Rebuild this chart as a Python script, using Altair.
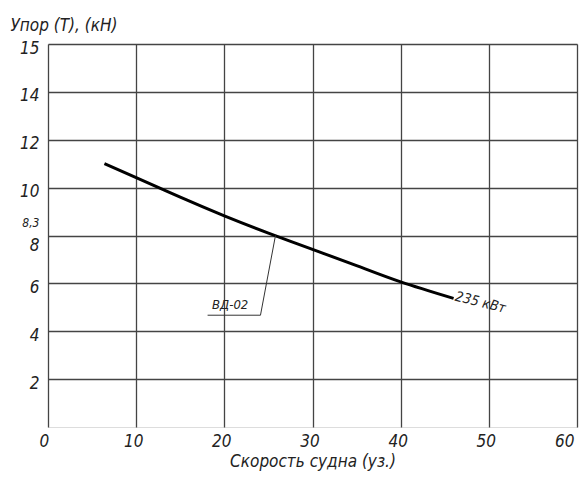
import altair as alt
import pandas as pd

# Curve data
speed = [6.4, 10, 15, 20, 25, 30, 35, 40, 46]
thrust = [11.0, 10.42, 9.6, 8.82, 8.1, 7.42, 6.74, 6.06, 5.37]

# Leader line for the "ВД-02" label
leader_x = [25.8, 24.1, 18.1]
leader_y = [8.0, 4.67, 4.67]

x_ticks = [0, 10, 20, 30, 40, 50, 60]
y_ticks = [2, 4, 6, 8, 8.3, 10, 12, 14, 16]

FONT = "Liberation Sans Narrow, DejaVu Sans Condensed, sans-serif"

curve_df = pd.DataFrame({"x": speed, "y": thrust})
leader_df = pd.DataFrame({"x": leader_x, "y": leader_y, "o": [0, 1, 2]})

xs = alt.Scale(domain=[0, 60], nice=False)
ys = alt.Scale(domain=[0, 16], nice=False)

x_axis = alt.Axis(
    values=x_ticks, title="Скорость судна (уз.)", grid=True, ticks=False, domain=False,
    labelOverlap=False,
    labelFont=FONT, labelFontStyle="italic", labelFontSize=17, labelColor="#222",
    labelPadding=6,
    labelOffset={"condition": {"test": "datum.value == 0", "value": -9}, "value": -3},
    titleFont=FONT, titleFontStyle="italic", titleFontSize=17, titleFontWeight="normal",
    titleColor="#222", titlePadding=4,
    gridColor="#444", gridWidth=1.3, gridOpacity=1,
)
y_axis = alt.Axis(
    values=y_ticks, title="Упор (Т), (кН)", grid=True, ticks=False, domain=False,
    labelOverlap=False,
    labelExpr="datum.value == 16 ? '15' : (datum.value == 8.3 ? '8,3' : datum.label)",
    labelFont=FONT, labelFontStyle="italic",
    labelFontSize={"condition": {"test": "datum.value == 8.3", "value": 12}, "value": 17},
    labelColor="#222", labelPadding=9, labelBaseline="middle",
    labelOffset={"condition": [{"test": "datum.value == 8", "value": 10},
                               {"test": "datum.value == 8.3", "value": -6}],
                 "value": 4},
    gridOpacity={"condition": {"test": "datum.value == 8.3", "value": 0}, "value": 1},
    gridColor="#444", gridWidth=1.3,
    titleFont=FONT, titleFontStyle="italic", titleFontSize=17, titleFontWeight="normal",
    titleColor="#222", titleAngle=0, titleAlign="left", titleBaseline="middle",
    titleX=-38, titleY=-19,
)

curve = alt.Chart(curve_df).mark_line(color="black", strokeWidth=3, interpolate="natural").encode(
    x=alt.X("x:Q", scale=xs, axis=x_axis),
    y=alt.Y("y:Q", scale=ys, axis=y_axis),
)

leader = alt.Chart(leader_df).mark_line(color="#333", strokeWidth=1).encode(
    x=alt.X("x:Q", scale=xs), y=alt.Y("y:Q", scale=ys), order="o:Q"
)

labels_df = pd.DataFrame({
    "x": [18.6, 46.2],
    "y": [4.8, 5.45],
    "t": ["ВД-02", "235 кВт"],
})
label_vd = alt.Chart(labels_df.iloc[[0]]).mark_text(
    font=FONT, fontStyle="italic", fontSize=13, color="#222", align="left", baseline="bottom"
).encode(x=alt.X("x:Q", scale=xs), y=alt.Y("y:Q", scale=ys), text="t:N")
label_kw = alt.Chart(labels_df.iloc[[1]]).mark_text(
    font=FONT, fontStyle="italic", fontSize=14, color="#222", align="left", baseline="middle",
    angle=14,
).encode(x=alt.X("x:Q", scale=xs), y=alt.Y("y:Q", scale=ys), text="t:N")

chart = alt.layer(curve, leader, label_vd, label_kw).properties(
    width=529, height=383,
    autosize=alt.AutoSizeParams(type="none"),
    padding={"left": 40, "top": 36, "right": 3, "bottom": 46},
).configure_view(stroke="#444", strokeWidth=1.6).configure(background="white")

chart.save("out.html", embed_options={"renderer": "svg", "actions": False})
